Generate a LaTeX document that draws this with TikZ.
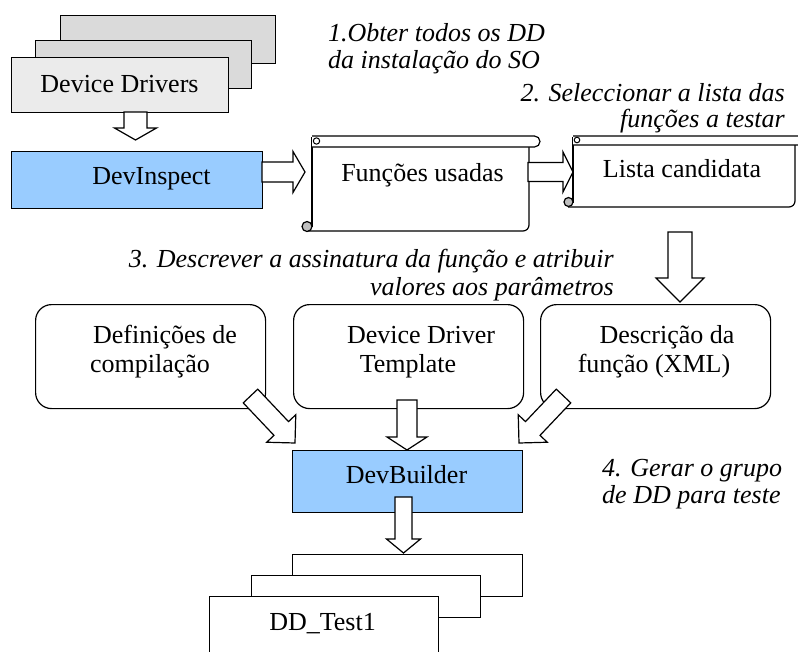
\documentclass[tikz,border=0pt]{standalone}
\usepackage{fontspec}
\setmainfont{Liberation Serif}
\usetikzlibrary{calc}

\definecolor{boxblue}{HTML}{99CCFF}
\definecolor{drvgray}{HTML}{DADADA}
\definecolor{drvlight}{HTML}{EBEBEB}
\definecolor{curlgray}{HTML}{BFBFBF}

% Block arrow: #1 tail, #2 tip, #3 shaft half width, #4 head half width, #5 head length
\newcommand\blockarrow[5]{%
  \coordinate (ba-base) at ($#2!#5!#1$);
  \draw[arrowline] ($#1!#3!90:#2$) -- ($(ba-base)!#3!90:#2$)
    -- ($(ba-base)!#4!90:#2$) -- #2 -- ($(ba-base)!#4!-90:#2$)
    -- ($(ba-base)!#3!-90:#2$) -- ($#1!#3!-90:#2$) -- cycle;
}

\tikzset{
  outline/.style={draw=black, line width=1.2pt},
  arrowline/.style={outline, fill=white, line join=miter},
  plainbox/.style={outline, rectangle, inner sep=0pt, anchor=north west},
  roundbox/.style={plainbox, fill=white, rounded corners=16pt},
  txt/.style={inner sep=0pt, font=\fontsize{26}{30}\selectfont},
  steplabel/.style={txt, font=\fontsize{26}{30}\selectfont\itshape},
}

\begin{document}
\begin{tikzpicture}[x=1pt, y=-1pt]
\useasboundingbox (0,0) rectangle (798,651);

% ---- stack of device drivers ----
\node[plainbox, fill=drvgray, minimum width=215pt, minimum height=48pt] (drvback) at (60,15) {};
\node[plainbox, fill=drvgray, minimum width=216pt, minimum height=48pt] (drvmid) at (35,40) {};
\node[plainbox, fill=drvlight, minimum width=217pt, minimum height=55pt] (drvfront) at (11,57) {};
\node[txt, anchor=base] (drvtext) at (119.5,92) {Device Drivers};

% ---- DevInspect ----
\node[plainbox, fill=boxblue, minimum width=251pt, minimum height=57pt] (inspect) at (11,151) {};
\node[txt, anchor=base] (inspecttext) at (151.5,184) {DevInspect};

% ---- scroll: Funções usadas ----
\fill[white] (312,142) rectangle (529,231);
\draw[outline, rounded corners=6pt] (529,146) -- (529,231) -- (306,231);
\draw[outline] (312,137) -- (312,227);
\draw[outline, fill=white, rounded corners=5.5pt] (312,136) -- (540,136) -- (540,147) -- (312,147);
\draw[outline, line width=1pt] (316.5,141) circle (3.2);
\draw[outline, fill=curlgray] (307,226.5) circle (5);
\coordinate (usedwest) at (312,172);
\coordinate (usedeast) at (529,172);
\node[txt, anchor=base] (usedtext) at (422.5,181) {Funções usadas};

% ---- scroll: Lista candidata ----
\fill[white] (573,140) rectangle (795,207);
\draw[outline, rounded corners=6pt] (795,144) -- (795,207) -- (568,207);
\draw[outline] (573,137) -- (573,203);
\draw[outline, fill=white, rounded corners=4.5pt] (573,136) -- (806,136) -- (806,145) -- (573,145);
\draw[outline, line width=1pt] (577,140) circle (2.8);
\draw[outline, fill=curlgray] (568.5,202) circle (4.5);
\node[txt, anchor=base] (listtext) at (682,177) {Lista candidata};

% ---- step labels ----
\node[steplabel, anchor=base west] (stepA1) at (328,41) {1.Obter todos os DD};
\node[steplabel, anchor=base west] (stepA2) at (328,68) {da instalação do SO};
\node[steplabel, anchor=base east] (stepB1) at (785,101) {2. Seleccionar a lista das};
\node[steplabel, anchor=base east] (stepB2) at (785,127) {funções a testar};
\node[steplabel, anchor=base east] (stepC1) at (614,267) {3. Descrever a assinatura da função e atribuir};
\node[steplabel, anchor=base east] (stepC2) at (614,295) {valores aos parâmetros};
\node[steplabel, anchor=base west] (stepD1) at (602,476) {4. Gerar o grupo};
\node[steplabel, anchor=base west] (stepD2) at (602,503) {de DD para teste};

% ---- inputs of the builder ----
\node[roundbox, minimum width=230pt, minimum height=104pt] (defs) at (35,304) {};
\node[roundbox, minimum width=230pt, minimum height=104pt] (tmpl) at (293,304) {};
\node[roundbox, minimum width=230pt, minimum height=104pt] (desc) at (540,304) {};
\node[txt, anchor=base] (defsA) at (165,343) {Definições de};
\node[txt, anchor=base] (defsB) at (150,372) {compilação};
\node[txt, anchor=base] (tmplA) at (421,343) {Device Driver};
\node[txt, anchor=base] (tmplB) at (408,372) {Template};
\node[txt, anchor=base] (descA) at (667,343) {Descrição da};
\node[txt, anchor=base] (descB) at (654,372) {função (XML)};

% ---- DevBuilder ----
\node[plainbox, fill=boxblue, minimum width=230pt, minimum height=62pt] (builder) at (292,450) {};
\node[txt, anchor=base] (buildertext) at (406.5,483) {DevBuilder};

% ---- generated test drivers ----
\node[plainbox, fill=white, minimum width=230pt, minimum height=42pt] (testback) at (292,554) {};
\node[plainbox, fill=white, minimum width=229pt, minimum height=42pt] (testmid) at (251,575) {};
\node[plainbox, fill=white, minimum width=229pt, minimum height=70pt] (testfront) at (209,596) {};
\node[txt, anchor=base] (testtext) at (322.5,630) {DD\_Test1};

% ---- block arrows ----
\coordinate (a1s) at (135.5,112);  \coordinate (a1e) at (135.5,140);
\coordinate (a2s) at (262,172);    \coordinate (a2e) at (305,172);
\coordinate (a3s) at (528,172);    \coordinate (a3e) at (573,172);
\coordinate (a4s) at (680,232);    \coordinate (a4e) at (680,302);
\coordinate (a5s) at (250.5,396);  \coordinate (a5e) at (295,443);
\coordinate (a6s) at (407,400);    \coordinate (a6e) at (407,450);
\coordinate (a7s) at (563.5,396);  \coordinate (a7e) at (519,443);
\coordinate (a8s) at (403.5,497);  \coordinate (a8e) at (403.5,553);

\blockarrow{(a1s)}{(a1e)}{11.5pt}{21pt}{12pt}
\blockarrow{(a2s)}{(a2e)}{10pt}{20.5pt}{12pt}
\blockarrow{(a3s)}{(a3e)}{9.5pt}{20pt}{10pt}
\blockarrow{(a4s)}{(a4e)}{12pt}{24pt}{24pt}
\blockarrow{(a5s)}{(a5e)}{10pt}{20pt}{20pt}
\blockarrow{(a6s)}{(a6e)}{10pt}{20pt}{13pt}
\blockarrow{(a7s)}{(a7e)}{10pt}{20pt}{20pt}
\blockarrow{(a8s)}{(a8e)}{8.5pt}{17pt}{14pt}

\end{tikzpicture}
\end{document}
